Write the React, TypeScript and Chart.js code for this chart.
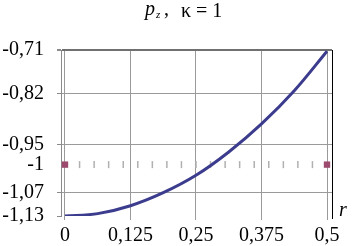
import React, { useEffect, useRef } from "react";
import { Chart, registerables } from "chart.js";

Chart.register(...registerables);

// Curve p_z(r), values
const rValues = [0, 0.0625, 0.125, 0.1875, 0.25, 0.3125, 0.375, 0.4375, 0.5];
const pzValues = [-1.13, -1.124, -1.104, -1.071, -1.027, -0.968, -0.897, -0.813, -0.713];

// Reference level markers at p = -1
const markerR = [
  0, 0.0278, 0.0556, 0.0833, 0.1111, 0.1389, 0.1667, 0.1944, 0.2222, 0.25,
  0.2778, 0.3056, 0.3333, 0.3611, 0.3889, 0.4167, 0.4444, 0.4722, 0.5,
];
const markerLevel = -1;

const xTicks = [0, 0.125, 0.25, 0.375, 0.5];
const xTickLabels = ["0", "0,125", "0,25", "0,375", "0,5"];
const yTicks = [-0.71, -0.82, -0.95, -1, -1.07, -1.13];
const yTickLabels = ["-0,71", "-0,82", "-0,95", "-1", "-1,07", "-1,13"];

const FONT = "\"Liberation Serif\", \"DejaVu Serif\", serif";

export default function App() {
  const ref = useRef<HTMLCanvasElement>(null);

  useEffect(() => {
    const canvas = ref.current;
    if (!canvas) return;

    const lastIdx = markerR.length - 1;

    const framePlugin = {
      id: "frame",
      beforeDatasetsDraw(chart: any) {
        const { ctx, chartArea } = chart;
        ctx.save();
        ctx.strokeStyle = "#000";
        ctx.lineWidth = 1;
        ctx.beginPath();
        ctx.moveTo(chartArea.right + 0.5, chartArea.top);
        ctx.lineTo(chartArea.right + 0.5, chartArea.bottom + 3);
        ctx.stroke();
        ctx.restore();
      },
      afterDraw(chart: any) {
        const { ctx } = chart;
        ctx.save();
        ctx.fillStyle = "#000";
        ctx.textBaseline = "alphabetic";
        ctx.textAlign = "left";
        // title: p_z ,  κ = 1
        ctx.font = `italic 20px ${FONT}`;
        ctx.fillText("p", 145, 15);
        ctx.font = `italic 11px ${FONT}`;
        ctx.fillText("z", 156, 18);
        ctx.font = `20px ${FONT}`;
        ctx.fillText(",", 164, 15);
        ctx.fillText("κ = 1", 181, 17);
        // axis name r
        ctx.font = `italic 20px ${FONT}`;
        ctx.fillText("r", 339, 216);
        ctx.restore();
      },
    };

    const chart = new Chart(canvas, {
      type: "line",
      data: {
        datasets: [
          {
            label: "pz",
            data: rValues.map((r, i) => ({ x: r, y: pzValues[i] })),
            borderColor: "#3c3c8e",
            borderWidth: 3,
            pointRadius: 0,
            tension: 0.35,
            fill: false,
          },
          {
            label: "level",
            data: markerR.map((r) => ({ x: r, y: markerLevel })),
            showLine: false,
            pointStyle: markerR.map((_, i) => (i === 0 || i === lastIdx ? "rect" : "line")) as any,
            rotation: 90,
            pointRadius: markerR.map((_, i) => (i === 0 || i === lastIdx ? 4.5 : 3.5)),
            pointBorderWidth: markerR.map((_, i) => (i === 0 || i === lastIdx ? 0 : 1.5)),
            pointBackgroundColor: markerR.map((_, i) => (i === 0 || i === lastIdx ? "#9c4a6e" : "#b0b0b0")),
            pointBorderColor: markerR.map((_, i) => (i === 0 || i === lastIdx ? "#9c4a6e" : "#b0b0b0")),
          } as any,
        ],
      },
      options: {
        animation: false,
        responsive: false,
        devicePixelRatio: 1,
        layout: { padding: { top: 50, right: 20, left: 0, bottom: 0 } },
        plugins: {
          legend: { display: false },
          title: { display: false },
          tooltip: { enabled: false },
        },
        scales: {
          x: {
            type: "linear",
            min: -0.00763,
            max: 0.50954,
            afterBuildTicks: (scale: any) => {
              scale.ticks = xTicks.map((v) => ({ value: v }));
            },
            afterFit: (scale: any) => {
              scale.height = 30;
            },
            ticks: {
              autoSkip: false,
              maxRotation: 0,
              color: "#000",
              padding: 4,
              font: { family: FONT, size: 20 },
              callback: (v: any) => xTickLabels[xTicks.indexOf(Number(v))] ?? "",
            },
            grid: {
              color: "#9a9a9a",
              lineWidth: 1,
              tickLength: 4,
              drawTicks: true,
            },
            border: { display: false },
          },
          y: {
            type: "linear",
            min: -1.13,
            max: -0.71,
            afterBuildTicks: (scale: any) => {
              scale.ticks = yTicks.map((v) => ({ value: v }));
            },
            afterFit: (scale: any) => {
              scale.width = 61;
            },
            ticks: {
              autoSkip: false,
              color: "#000",
              padding: 13,
              font: { family: FONT, size: 20 },
              callback: (v: any) => yTickLabels[yTicks.indexOf(Number(v))] ?? "",
            },
            grid: {
              color: (ctx: any) => {
                const v = ctx.tick?.value;
                if (v === -0.71) return "#707070";
                if (v === -1.13 || v === -1) return "rgba(0,0,0,0)";
                return "#9a9a9a";
              },
              lineWidth: (ctx: any) => (ctx.tick?.value === -0.71 ? 2 : 1),
              tickColor: (ctx: any) => (ctx.tick?.value === -1 ? "rgba(0,0,0,0)" : "#8a8a8a"),
              tickLength: 4,
              drawTicks: true,
            },
            border: { display: true, color: "#8a8a8a", width: 1 },
          },
        },
      },
      plugins: [framePlugin],
    } as any);

    let alive = true;
    if ((document as any).fonts?.load) {
      Promise.all([
        (document as any).fonts.load(`20px "Liberation Serif"`),
        (document as any).fonts.load(`italic 20px "Liberation Serif"`),
      ])
        .then(() => {
          if (alive) chart.update();
        })
        .catch(() => {});
    }

    return () => {
      alive = false;
      chart.destroy();
    };
  }, []);

  return (
    <div style={{ position: "fixed", left: 0, top: 0, width: 352, height: 246, background: "#fff" }}>
      <canvas ref={ref} width={352} height={246} style={{ display: "block" }} />
    </div>
  );
}
